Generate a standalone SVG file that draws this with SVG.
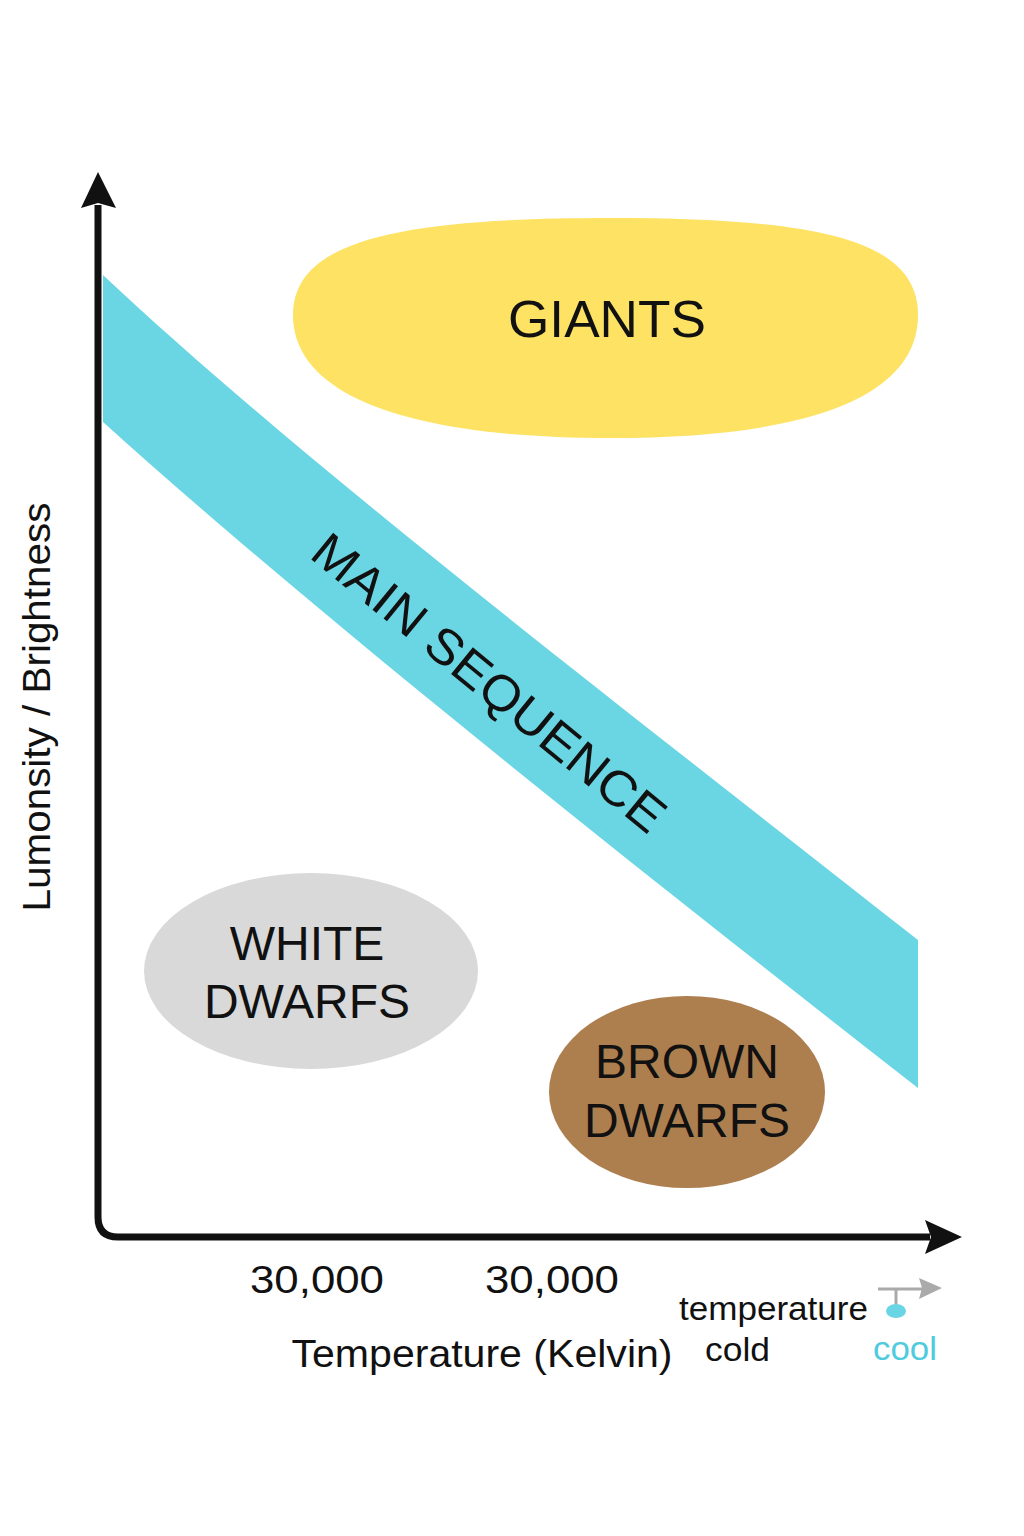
<svg xmlns="http://www.w3.org/2000/svg" width="1024" height="1536" viewBox="0 0 1024 1536">
<style>
.t{font-family:"Liberation Sans","Inter",Arial,sans-serif;fill:#111;}
.big{font-size:52px;}
.mid{font-size:48px;}
.ax{font-size:39px;}
.sm{font-size:33px;}
</style>
<defs>
<marker id="ah" viewBox="0 0 10 10" refX="9" refY="5" markerWidth="7" markerHeight="7" markerUnits="userSpaceOnUse" orient="auto"><path d="M0,0 L10,5 L0,10 Z" fill="#aaa"/></marker>
</defs>
<rect width="1024" height="1536" fill="#fff"/>
<g id="main-sequence">
<path d="M103,275 C300,460 600,690 918,940 L918,1088 C600,840 300,600 103,422 Z" fill="#6BD6E3"/>
<text class="t" font-size="50" transform="translate(489,683) rotate(39.3)" text-anchor="middle" dominant-baseline="central" textLength="440" lengthAdjust="spacingAndGlyphs">MAIN SEQUENCE</text>
</g>
<g id="giants">
<path d="M293,315 C293,240 400,218 610,218 C820,218 918,240 918,315 C918,400 800,438 610,438 C420,438 293,400 293,315 Z" fill="#FDE263"/>
<text class="t big" x="607" y="337" text-anchor="middle" textLength="198" lengthAdjust="spacingAndGlyphs">GIANTS</text>
</g>
<g id="white-dwarfs">
<ellipse cx="311" cy="971" rx="167" ry="98" fill="#D9D9D9"/>
<text class="t mid" x="307" y="960" text-anchor="middle">WHITE</text>
<text class="t mid" x="307" y="1018" text-anchor="middle">DWARFS</text>
</g>
<g id="brown-dwarfs">
<ellipse cx="687" cy="1092" rx="138" ry="96" fill="#AD7F4F"/>
<text class="t mid" x="687" y="1078" text-anchor="middle">BROWN</text>
<text class="t mid" x="687" y="1137" text-anchor="middle">DWARFS</text>
</g>
<g id="axes">
<path d="M98,205 L98,1217 Q98,1237 118,1237 L930,1237" fill="none" stroke="#111" stroke-width="7"/>
<path d="M98,172 L116,208 L98,203 L81,208 Z" fill="#111"/>
<path d="M962,1237 L925,1220 L931,1237 L925,1254 Z" fill="#111"/>
</g>
<g id="labels">
<text class="t ax" transform="translate(50,707) rotate(-90)" text-anchor="middle" textLength="409" lengthAdjust="spacingAndGlyphs">Lumonsity / Brightness</text>
<text class="t ax" x="317" y="1293" text-anchor="middle" textLength="134" lengthAdjust="spacingAndGlyphs">30,000</text>
<text class="t ax" x="552" y="1293" text-anchor="middle" textLength="134" lengthAdjust="spacingAndGlyphs">30,000</text>
<text class="t ax" x="482" y="1367" text-anchor="middle" textLength="381" lengthAdjust="spacingAndGlyphs">Temperature (Kelvin)</text>
<text class="t sm" x="679" y="1320" textLength="189" lengthAdjust="spacingAndGlyphs">temperature</text>
<text class="t sm" x="705" y="1361" textLength="65" lengthAdjust="spacingAndGlyphs">cold</text>
<text class="t sm" x="873" y="1360" style="fill:#4FCBDD" textLength="64" lengthAdjust="spacingAndGlyphs">cool</text>
</g>
<g id="legend">
<line x1="878" y1="1289" x2="926" y2="1289" stroke="#aaa" stroke-width="3"/>
<path d="M942,1288 L919,1278 L922,1288 L919,1299 Z" fill="#aaa"/>
<line x1="896" y1="1289" x2="896" y2="1305" stroke="#aaa" stroke-width="3"/>
<ellipse cx="896" cy="1311" rx="10" ry="7" fill="#6BD6E3"/>
</g>
</svg>
